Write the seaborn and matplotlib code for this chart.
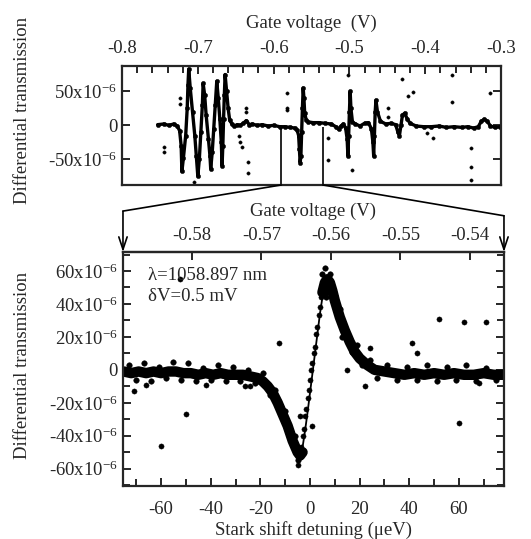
import matplotlib
matplotlib.use("Agg")
import matplotlib.pyplot as plt
import seaborn as sb
from matplotlib.ticker import MultipleLocator, FixedLocator, FuncFormatter, FormatStrFormatter
from matplotlib.patches import ConnectionPatch

# ---- top panel: full gate voltage sweep (V) vs differential transmission (x1e-6)
sweep_v = [-0.753, -0.745, -0.738, -0.732, -0.727, -0.724, -0.722, -0.721, -0.719, -0.716,
           -0.714, -0.713, -0.712, -0.710, -0.707, -0.704, -0.702, -0.700, -0.698, -0.696,
           -0.694, -0.693, -0.691, -0.689, -0.686, -0.684, -0.683, -0.681, -0.679, -0.677,
           -0.675, -0.673, -0.671, -0.669, -0.668, -0.667, -0.666, -0.665, -0.664, -0.662,
           -0.660, -0.658, -0.655, -0.652, -0.648, -0.644, -0.640, -0.636, -0.632, -0.628,
           -0.622, -0.615, -0.607, -0.600, -0.592, -0.585, -0.578, -0.572, -0.569, -0.567,
           -0.566, -0.565, -0.564, -0.563, -0.562, -0.561, -0.560, -0.559, -0.557, -0.554,
           -0.548, -0.540, -0.532, -0.524, -0.518, -0.514, -0.511, -0.508, -0.505, -0.503,
           -0.502, -0.501, -0.500, -0.499, -0.498, -0.496, -0.492, -0.486, -0.480, -0.475,
           -0.471, -0.469, -0.468, -0.467, -0.466, -0.465, -0.463, -0.459, -0.452, -0.445,
           -0.439, -0.436, -0.434, -0.432, -0.430, -0.427, -0.424, -0.420, -0.412, -0.402,
           -0.392, -0.382, -0.372, -0.362, -0.352, -0.344, -0.336, -0.330, -0.326, -0.322,
           -0.318, -0.314, -0.308, -0.301]
sweep_t = [1, 2, 0, 2, -1, -8, -30, -68, -48, -15,
           25, 60, 83, 55, 20, -15, -45, -75, -50, -10,
           30, 62, 45, 15, -20, -45, -64, -40, -5, 30,
           65, 40, 10, -25, -60, -30, 10, 45, 75, 50,
           25, 8, 2, -1, 1, 0, 3, 7, 1, 2,
           0, 1, -1, 0, -2, -2, -3, -4, -7, -15,
           -35, -55, -45, -10, 25, 55, 40, 18, 8, 5,
           4, 4, 3, 2, -2, -6, -1, 2, -4, -20,
           -45, -15, 20, 50, 25, 5, 2, -1, 3, 4,
           -5, -25, -45, -15, 20, 37, 20, 6, 2, 3,
           1, -10, -15, 0, 15, 18, 10, 3, -1, -2,
           -2, -1, -3, -2, -3, -2, -4, -2, 6, 9,
           6, -1, -3, -2]

# isolated points of the sweep
stray_v = [-0.745, -0.745, -0.724, -0.724, -0.705, -0.646, -0.644, -0.642, -0.636, -0.636,
           -0.634, -0.634, -0.582, -0.582, -0.582, -0.528, -0.528, -0.502, -0.497, -0.449,
           -0.449, -0.431, -0.423, -0.416, -0.398, -0.390, -0.365, -0.365, -0.340, -0.340,
           -0.340, -0.315]
stray_t = [-32, -40, 41, 32, -84, -15, -25, -32, 26, 20,
           -54, -70, 47, 26, 22, -19, -51, 74, -66, 25,
           12, 69, 44, 49, -12, -18, 74, 34, -34, -62,
           -81, 47]

# voltage window shown in the lower panel
zoom_v = [-0.5899, -0.5351]
zoom_ticks = [-0.58, -0.57, -0.56, -0.55, -0.54]

# ---- bottom panel: Stark shift detuning (ueV) vs differential transmission (x1e-6)
band_left_d = [-75, -72, -69, -66, -63, -60, -57, -54, -51, -48, -45, -42, -39, -36, -33,
               -30, -27, -24, -21, -19, -17, -15, -13, -11, -9, -7, -5, -4, -3]
band_left_t = [-1, -2, -1, -2, -1, -2, -1, -1, -2, -2, -3, -2, -3, -2, -3,
               -3, -3, -4, -5, -7, -10, -14, -20, -27, -34, -43, -50, -52, -50]
rise_d = [-3.5, -3, -2.5, -2, -1.5, -1, -0.5, 0, 0.5, 1, 1.5, 2, 2.5, 3, 3.5, 4, 4.5]
rise_t = [-47, -40, -36, -28, -24, -17, -12, -6, 0, 4, 10, 14, 22, 26, 33, 38, 44]
band_right_d = [5, 6, 7, 8, 9, 10, 12, 14, 16, 18, 20, 23, 26, 30, 34, 38, 42, 46, 50,
                54, 58, 62, 66, 70, 74, 78]
band_right_t = [47, 53, 55, 53, 48, 42, 32, 24, 17, 11, 7, 3, 0, -1, -2, -3, -2, -3, -2,
                -3, -2, -3, -3, -2, -3, -3]
dots_d = [-73, -70, -67, -64, -61, -58, -55, -52, -49, -46, -43, -40, -37, -34, -31, -28,
          -25, -22, -19, -16, -14, -12, -10, -8, -6, -5, 5, 6, 6.5, 7, 8, 9, 10, 11, 12, 13,
          15, 17, 19, 21, 24, 27, 31, 35, 39, 43, 47, 51, 55, 59, 63, 67, 71, 75]
dots_t = [3, -6, 4, -7, 2, -5, 5, -6, 4, -7, 1, -6, 3, -7, 2, -7,
          0, -8, -2, -15, -12, -23, -25, -38, -40, -55, 58, 62, 44, 47, 58, 44, 45, 35, 37,
          20, 22, 11, 15, 3, 6, -5, 3, -6, 2, -6, 3, -7, 2, -6, 3, -7, 1, -6]
stray_d = [-71, -66, -60, -52.4, -50, -42, -26, -24, -12.5, -5, -4, 0.8, 15, 22, 24, 41,
           43, 52, 60, 62, 68, 71]
stray_dt = [-13, -9, -46, 55, -27, -9, -10, -10, 16, -58, -28, -34, 0, -10, 13, 16,
            10, 31, -32, 29, -8, 29]
fit_d = [-75, -40, -25, -20, -16, -12, -9, -7, -5, -4, -3, -2, -1, 0, 1, 2, 3, 4, 5, 6,
         7, 8, 9, 10, 12, 14, 16, 18, 20, 24, 30, 40, 78]
fit_t = [-1, -2, -3, -5, -9, -18, -29, -39, -48, -51, -47, -37, -26, -14, -2, 10, 22, 34,
         44, 50, 52, 50, 46, 41, 32, 24, 17, 12, 8, 3, 0, -1, -1]

# detuning <-> gate voltage (zero at -0.563 V, 2.8 ueV per mV)
v_zero = -0.563
ueV_per_V = 2800.0


def det_to_v(d):
    return v_zero + d / ueV_per_V


def v_to_det(v):
    return (v - v_zero) * ueV_per_V


def micro_fmt(val, pos):
    if abs(val) < 1e-9:
        return "0"
    return f"{int(round(val))}x10$^{{-6}}$"


sb.set_style("ticks")
plt.rcParams['font.family'] = ['Liberation Serif', 'DejaVu Serif']
plt.rcParams['mathtext.fontset'] = 'custom'
plt.rcParams['mathtext.rm'] = 'Liberation Serif'
plt.rcParams['mathtext.it'] = 'Liberation Serif:italic'
plt.rcParams['axes.unicode_minus'] = False
plt.rcParams['xtick.direction'] = 'in'
plt.rcParams['ytick.direction'] = 'in'
plt.rcParams['axes.linewidth'] = 1.6

fs = 13.5
fig = plt.figure(figsize=(5.31, 5.39), dpi=100)
ax1 = fig.add_axes([0.2298, 0.6568, 0.7137, 0.2213])
ax2 = fig.add_axes([0.2316, 0.0983, 0.7175, 0.4341])

# top panel
sb.lineplot(x=sweep_v, y=sweep_t, sort=False, estimator=None, color='k', lw=2.4,
            solid_capstyle='round', ax=ax1)
sb.scatterplot(x=sweep_v, y=sweep_t, color='k', s=10, edgecolor=None, ax=ax1)
sb.scatterplot(x=stray_v, y=stray_t, color='k', s=6, edgecolor=None, ax=ax1)
ax1.set_xlim(-0.8, -0.3)
ax1.set_ylim(-88, 88)
ax1.vlines(zoom_v, -88, -2, color='k', lw=1.2)
ax1.xaxis.tick_top()
ax1.xaxis.set_label_position('top')
ax1.xaxis.set_major_locator(MultipleLocator(0.1))
ax1.xaxis.set_minor_locator(MultipleLocator(0.02))
ax1.xaxis.set_major_formatter(FormatStrFormatter('%.1f'))
ax1.yaxis.set_major_locator(MultipleLocator(50))
ax1.yaxis.set_major_formatter(FuncFormatter(micro_fmt))
ax1.tick_params(axis='x', which='both', top=True, bottom=False, labelsize=fs, pad=6)
ax1.tick_params(axis='x', which='major', length=6, width=1.4)
ax1.tick_params(axis='x', which='minor', length=5, width=1.4)
ax1.tick_params(axis='y', which='major', left=True, right=True, length=6, width=1.4,
                labelsize=fs)
ax1.set_xlabel("Gate voltage  (V)", fontsize=fs, labelpad=9)
ax1.set_ylabel("")

# bottom panel
sb.lineplot(x=band_left_d, y=band_left_t, sort=False, estimator=None, color='k', lw=7.5,
            solid_capstyle='round', ax=ax2)
sb.lineplot(x=band_right_d, y=band_right_t, sort=False, estimator=None, color='k', lw=7.5,
            solid_capstyle='round', ax=ax2)
sb.scatterplot(x=rise_d, y=rise_t, color='k', s=14, edgecolor=None, ax=ax2)
sb.scatterplot(x=dots_d, y=dots_t, color='k', s=16, edgecolor=None, ax=ax2)
sb.scatterplot(x=stray_d, y=stray_dt, color='k', s=14, edgecolor=None, ax=ax2)
sb.lineplot(x=fit_d, y=fit_t, sort=False, estimator=None, color='k', lw=1.3, ax=ax2)
ax2.set_xlim(v_to_det(zoom_v[0]), v_to_det(zoom_v[1]))
ax2.set_ylim(-70.5, 71.5)
ax2.xaxis.set_major_locator(MultipleLocator(20))
ax2.xaxis.set_minor_locator(MultipleLocator(10))
ax2.yaxis.set_major_locator(MultipleLocator(20))
ax2.yaxis.set_minor_locator(MultipleLocator(10))
ax2.yaxis.set_major_formatter(FuncFormatter(micro_fmt))
ax2.tick_params(axis='x', which='both', top=False, bottom=True, labelsize=fs, pad=11)
ax2.tick_params(axis='y', which='both', left=True, right=True, labelsize=fs)
ax2.tick_params(which='major', length=6, width=1.4)
ax2.tick_params(which='minor', length=5, width=1.4)
ax2.set_xlabel("Stark shift detuning (\u03bceV)", fontsize=fs, labelpad=2)
ax2.set_ylabel("")

sec = ax2.secondary_xaxis('top', functions=(det_to_v, v_to_det))
sec.xaxis.set_major_locator(FixedLocator(zoom_ticks))
sec.xaxis.set_major_formatter(FormatStrFormatter('%.2f'))
sec.tick_params(direction='in', length=6, width=1.4, labelsize=fs, pad=6)
sec.set_xlabel("Gate voltage (V)", fontsize=fs, labelpad=8)

ax2.text(0.065, 0.9, "\u03bb=1058.897 nm", transform=ax2.transAxes, fontsize=fs,
         va='center')
ax2.text(0.065, 0.81, "\u03b4V=0.5 mV", transform=ax2.transAxes, fontsize=fs,
         va='center')

fig.text(0.042, 1 - 110 / 539, "Differential transmission", rotation=90, fontsize=fs,
         ha='center', va='center')
fig.text(0.042, 1 - 365 / 539, "Differential transmission", rotation=90, fontsize=fs,
         ha='center', va='center')

# zoom connectors from the sweep window down to the lower panel
for xv, xf, knee in [(zoom_v[0], 0.0, 1.175), (zoom_v[1], 1.0, 1.155)]:
    con = ConnectionPatch(xyA=(xv, -88), coordsA=ax1.transData,
                          xyB=(xf, knee), coordsB=ax2.transAxes, color='k', lw=1.2)
    fig.add_artist(con)
    ax2.annotate("", xy=(xf, 1.0), xytext=(xf, knee), xycoords='axes fraction',
                 textcoords='axes fraction', annotation_clip=False,
                 arrowprops=dict(arrowstyle='->,head_length=0.9,head_width=0.3',
                                 lw=1.2, color='k', shrinkA=0, shrinkB=0))

fig.savefig("out.png", dpi=100)
